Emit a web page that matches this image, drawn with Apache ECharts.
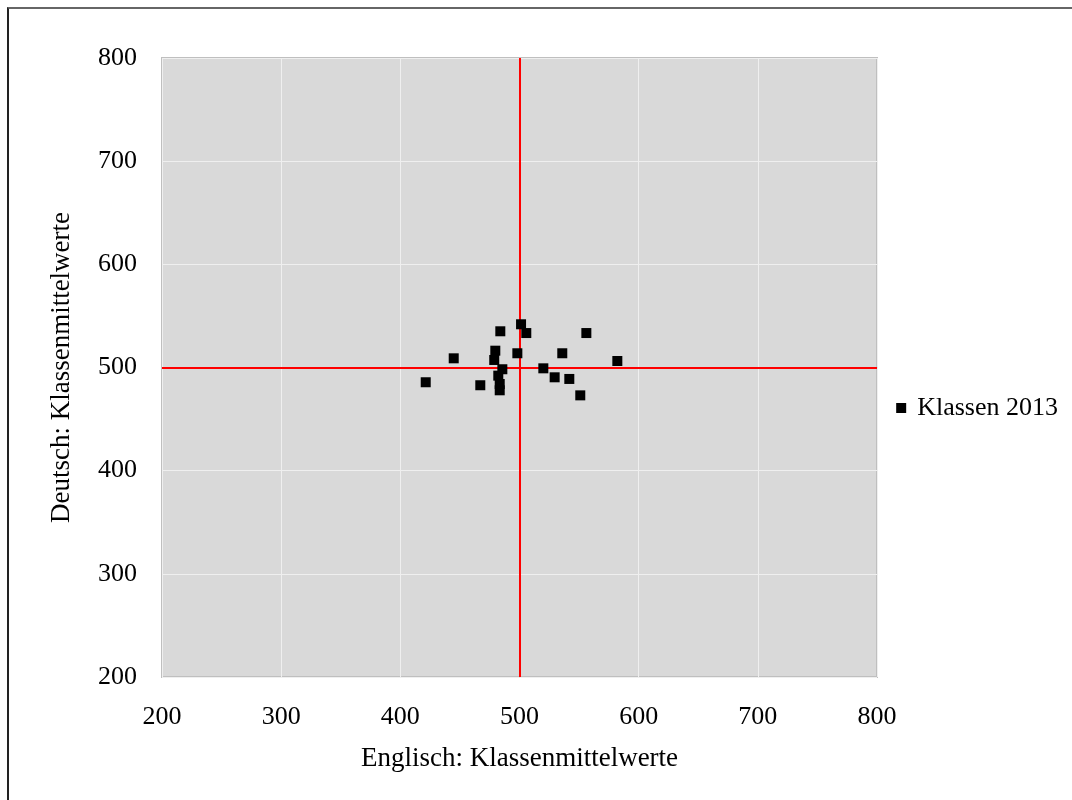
<!DOCTYPE html>
<html>
<head>
<meta charset="utf-8">
<script src="https://cdn.jsdelivr.net/npm/echarts@6/dist/echarts.min.js"></script>
<style>
html,body{margin:0;padding:0;background:#fff;}
#frame{position:absolute;left:7px;top:7px;width:1080px;height:800px;border-left:2px solid #222;border-top:2px solid #666;box-sizing:border-box;}
#chart{position:absolute;left:0;top:0;width:1072px;height:800px;}
</style>
</head>
<body>
<div id="frame"></div>
<div id="chart"></div>
<script>
const seriesName = 'Klassen 2013';
const englishValues = [421.3, 444.8, 483.9, 501.3, 505.7, 556.1, 479.7, 478.8, 498.2, 535.9, 485.6, 520.0, 582.1, 467.1, 482.2, 483.4, 483.4, 529.5, 541.8, 551.0];
const deutschValues = [485.7, 508.9, 535.1, 541.9, 533.4, 533.4, 516.3, 507.3, 513.8, 513.8, 498.3, 499.2, 506.3, 482.8, 492.1, 484.0, 477.9, 490.5, 488.9, 473.0];
const refX = 500;
const refY = 500;
const xAxisName = 'Englisch: Klassenmittelwerte';
const yAxisName = 'Deutsch: Klassenmittelwerte';

const font = "'Liberation Serif', 'DejaVu Serif', serif";
const points = englishValues.map((x, i) => [x, deutschValues[i]]);

const chart = echarts.init(document.getElementById('chart'));
chart.setOption({
  animation: false,
  backgroundColor: 'transparent',
  textStyle: { fontFamily: font },
  grid: {
    left: 162, right: 195, top: 58, bottom: 123,
    show: true, backgroundColor: '#d9d9d9', borderColor: '#bfbfbf', borderWidth: 2
  },
  legend: {
    right: 9, top: 390, itemWidth: 10, itemHeight: 10, itemGap: 6,
    icon: 'rect',
    textStyle: { fontFamily: font, fontSize: 26, color: '#000', padding: [0, 0, 0, 6] },
    data: [seriesName]
  },
  xAxis: {
    type: 'value', min: 200, max: 800, interval: 100,
    name: xAxisName, nameLocation: 'middle', nameGap: 68,
    nameTextStyle: { fontFamily: font, fontSize: 27, color: '#000' },
    axisLine: { show: false }, axisTick: { show: false },
    axisLabel: { fontFamily: font, fontSize: 26, color: '#000', margin: 27 },
    splitLine: { show: true, lineStyle: { color: '#efefef', width: 1 } }
  },
  yAxis: {
    type: 'value', min: 200, max: 800, interval: 100,
    name: yAxisName, nameLocation: 'middle', nameGap: 87,
    nameTextStyle: { fontFamily: font, fontSize: 27, color: '#000' },
    axisLine: { show: false }, axisTick: { show: false },
    axisLabel: { fontFamily: font, fontSize: 26, color: '#000', margin: 25 },
    splitLine: { show: true, lineStyle: { color: '#efefef', width: 1 } }
  },
  series: [{
    name: seriesName,
    type: 'scatter',
    symbol: 'rect',
    symbolSize: 10,
    itemStyle: { color: '#000', opacity: 1 },
    data: points,
    z: 3,
    markLine: {
      silent: true, symbol: 'none', label: { show: false },
      lineStyle: { color: '#ff0000', width: 2, type: 'solid', opacity: 1 },
      data: [{ xAxis: refX }, { yAxis: refY }],
      z: 2
    }
  }]
});
</script>
</body>
</html>
